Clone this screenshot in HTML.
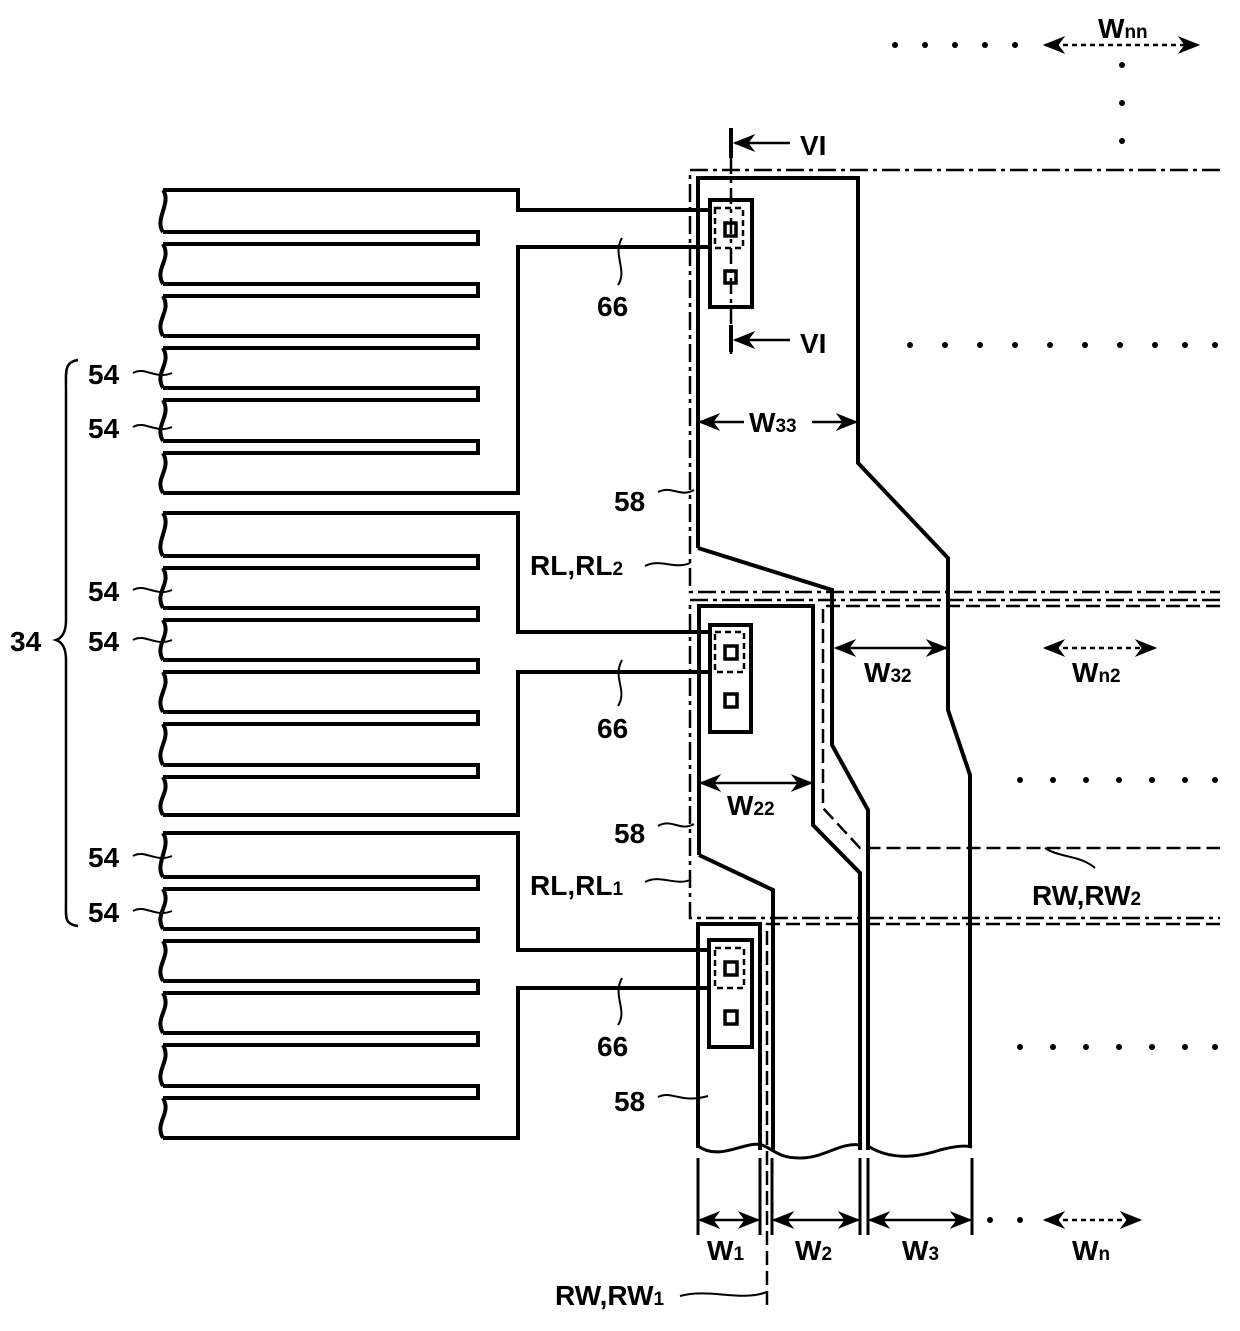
<!DOCTYPE html>
<html><head><meta charset="utf-8"><style>
body{margin:0;background:#fff}
svg{display:block}
text{font-family:"Liberation Sans",sans-serif;font-weight:bold;font-size:28px;fill:#000}
.s{font-size:19px}
</style></head><body>
<svg width="1240" height="1331" viewBox="0 0 1240 1331" xmlns="http://www.w3.org/2000/svg">
<defs>
<marker id="a" viewBox="0 0 10 10" refX="9" refY="5" markerWidth="9" markerHeight="9" orient="auto-start-reverse"><path d="M0,1 L10,5 L0,9 L3,5z" fill="#000"/></marker>
</defs>
<g fill="none" stroke="#000" stroke-width="4">
<path d="M163,190 H518 V210 H710 M710,247 H518 V493 H163"/>
<path d="M163,232 H478 V244 H163 M163,284 H478 V296 H163 M163,336 H478 V348 H163 M163,388 H478 V400 H163 M163,441 H478 V453 H163"/>
<path d="M163,190 C172,203 154,219 163,232 M163,244 C172,260 154,268 163,284 M163,296 C172,312 154,320 163,336 M163,348 C172,364 154,372 163,388 M163,400 C172,416 154,425 163,441 M163,453 C172,470 154,478 163,493"/>
<path d="M163,513 H518 V632 H710 M710,672 H518 V815 H163"/>
<path d="M163,556 H478 V568 H163 M163,608 H478 V620 H163 M163,660 H478 V672 H163 M163,712 H478 V724 H163 M163,765 H478 V777 H163"/>
<path d="M163,513 C172,527 154,542 163,556 M163,568 C172,584 154,592 163,608 M163,620 C172,636 154,644 163,660 M163,672 C172,688 154,696 163,712 M163,724 C172,740 154,749 163,765 M163,777 C172,793 154,800 163,815"/>
<path d="M163,833 H518 V950 H710 M710,988 H518 V1138 H163"/>
<path d="M163,877 H478 V889 H163 M163,929 H478 V941 H163 M163,981 H478 V993 H163 M163,1033 H478 V1045 H163 M163,1086 H478 V1098 H163"/>
<path d="M163,833 C172,847 154,863 163,877 M163,889 C172,905 154,913 163,929 M163,941 C172,957 154,965 163,981 M163,993 C172,1009 154,1017 163,1033 M163,1045 C172,1061 154,1070 163,1086 M163,1098 C172,1114 154,1122 163,1138"/>

<path d="M698,1148 V924 H760 V1150"/>
<path d="M698,548 V178 H858 V463 L948,558 V710 L970,775 V1148"/>
<path d="M698,548 L832,590 V745 L868,810 V1150"/>
<path d="M699,855 V606 H813 V825 L860,873 V1150"/>
<path d="M699,855 L773,890 V1150"/>
<rect x="710" y="200" width="42" height="107"/>
<rect x="710" y="625" width="41" height="107"/>
<rect x="709" y="940" width="43" height="107"/>
<g stroke-width="3.5">
<rect x="725" y="223" width="11" height="13"/><rect x="725" y="271" width="11" height="12"/>
<rect x="725" y="646" width="12" height="13"/><rect x="725" y="694" width="12" height="13"/>
<rect x="725" y="962" width="12" height="13"/><rect x="725" y="1011" width="12" height="13"/>
</g>
<path d="M698,1146 C720,1162 745,1140 762,1145 C775,1150 778,1158 800,1158 C825,1158 840,1142 860,1145 M868,1146 C890,1160 915,1158 940,1150 C955,1146 965,1145 972,1147" stroke-width="3"/>
<path d="M698,1158 V1235 M760,1158 V1235 M772,1158 V1235 M860,1158 V1235 M868,1158 V1235 M972,1158 V1235" stroke-width="3"/>
</g>

<g fill="none" stroke="#000" stroke-width="2.5">
<rect x="715" y="208" width="28" height="40" stroke-dasharray="6,4"/>
<rect x="715" y="632" width="29" height="40" stroke-dasharray="6,4"/>
<rect x="715" y="948" width="29" height="40" stroke-dasharray="6,4"/>
<path d="M1220,170 H690 V592 H1220" stroke-dasharray="18,5,4,5"/>
<path d="M1220,600 H690 V918 H1220" stroke-dasharray="18,5,4,5"/>
<path d="M1220,606 H823 V808 L860,848 H1220" stroke-dasharray="14,6"/>
<path d="M1220,924 H767 V1305" stroke-dasharray="14,6"/>
<path d="M731,128 V355" stroke-dasharray="16,5,4,5"/>
<path d="M731,128 V158 M731,325 V352" stroke-width="4"/>
<path d="M744,422 H700" marker-end="url(#a)"/>
<path d="M812,422 H856" marker-end="url(#a)"/>
<path d="M701,783 H811" marker-start="url(#a)" marker-end="url(#a)"/>
<path d="M836,648 H946" marker-start="url(#a)" marker-end="url(#a)"/>
<path d="M700,1220 H758" marker-start="url(#a)" marker-end="url(#a)"/>
<path d="M774,1220 H858" marker-start="url(#a)" marker-end="url(#a)"/>
<path d="M870,1220 H970" marker-start="url(#a)" marker-end="url(#a)"/>
<path d="M790,143 H735" marker-end="url(#a)"/>
<path d="M790,340 H735" marker-end="url(#a)"/>
<path d="M1045,45 H1198" stroke-dasharray="5,4" marker-start="url(#a)" marker-end="url(#a)"/>
<path d="M1045,648 H1155" stroke-dasharray="5,4" marker-start="url(#a)" marker-end="url(#a)"/>
<path d="M1045,1220 H1140" stroke-dasharray="5,4" marker-start="url(#a)" marker-end="url(#a)"/>
<path d="M622,238 C612,255 628,270 618,285" stroke-width="2"/>
<path d="M622,660 C612,678 628,690 618,706" stroke-width="2"/>
<path d="M622,978 C612,996 628,1010 618,1025" stroke-width="2"/>
<path d="M658,492 C672,485 680,498 694,490" stroke-width="2"/>
<path d="M658,826 C672,818 680,832 694,824" stroke-width="2"/>
<path d="M658,1097 C672,1090 680,1104 708,1096" stroke-width="2"/>
<path d="M645,566 C660,558 675,570 690,563" stroke-width="2"/>
<path d="M645,882 C660,874 675,886 690,880" stroke-width="2"/>
<path d="M1045,848 C1060,858 1080,855 1095,868" stroke-width="2"/>
<path d="M680,1296 C710,1288 740,1302 767,1292" stroke-width="2"/>
<path d="M133,373 C145,366 155,380 172,373 M133,427 C145,420 155,434 172,427 M133,590 C145,583 155,597 172,590 M133,640 C145,633 155,647 172,640 M133,856 C145,849 155,863 172,856 M133,911 C145,904 155,918 172,911" stroke-width="2"/>
<path d="M78,360 C64,362 66,372 66,390 V620 C66,632 62,638 56,640 C62,642 66,648 66,660 V900 C66,918 64,924 78,926" stroke-width="2.5"/>
</g>
<g fill="#000">
<circle cx="895" cy="45" r="3"/><circle cx="925" cy="45" r="3"/><circle cx="955" cy="45" r="3"/><circle cx="985" cy="45" r="3"/><circle cx="1015" cy="45" r="3"/>
<circle cx="1122" cy="65" r="3"/><circle cx="1122" cy="103" r="3"/><circle cx="1122" cy="141" r="3"/>
<circle cx="910" cy="345" r="3"/><circle cx="945" cy="345" r="3"/><circle cx="980" cy="345" r="3"/><circle cx="1015" cy="345" r="3"/><circle cx="1050" cy="345" r="3"/><circle cx="1085" cy="345" r="3"/><circle cx="1120" cy="345" r="3"/><circle cx="1155" cy="345" r="3"/><circle cx="1185" cy="345" r="3"/><circle cx="1215" cy="345" r="3"/>
<circle cx="1020" cy="780" r="3"/><circle cx="1053" cy="780" r="3"/><circle cx="1086" cy="780" r="3"/><circle cx="1119" cy="780" r="3"/><circle cx="1152" cy="780" r="3"/><circle cx="1185" cy="780" r="3"/><circle cx="1215" cy="780" r="3"/>
<circle cx="1020" cy="1047" r="3"/><circle cx="1053" cy="1047" r="3"/><circle cx="1086" cy="1047" r="3"/><circle cx="1119" cy="1047" r="3"/><circle cx="1152" cy="1047" r="3"/><circle cx="1185" cy="1047" r="3"/><circle cx="1215" cy="1047" r="3"/>
<circle cx="990" cy="1220" r="3"/><circle cx="1020" cy="1220" r="3"/>
</g>
<text x="800" y="155" font-family="Liberation Serif">VI</text>
<text x="800" y="353" font-family="Liberation Serif">VI</text>
<text x="1098" y="38">W<tspan class="s">nn</tspan></text>
<text x="749" y="432">W<tspan class="s">33</tspan></text>
<text x="864" y="682">W<tspan class="s">32</tspan></text>
<text x="1072" y="682">W<tspan class="s">n2</tspan></text>
<text x="727" y="815">W<tspan class="s">22</tspan></text>
<text x="707" y="1260">W<tspan class="s">1</tspan></text>
<text x="795" y="1260">W<tspan class="s">2</tspan></text>
<text x="902" y="1260">W<tspan class="s">3</tspan></text>
<text x="1072" y="1260">W<tspan class="s">n</tspan></text>
<text x="597" y="316">66</text>
<text x="597" y="738">66</text>
<text x="597" y="1056">66</text>
<text x="614" y="511">58</text>
<text x="614" y="843">58</text>
<text x="614" y="1111">58</text>
<text x="530" y="575">RL,RL<tspan class="s">2</tspan></text>
<text x="530" y="895">RL,RL<tspan class="s">1</tspan></text>
<text x="1032" y="905">RW,RW<tspan class="s">2</tspan></text>
<text x="555" y="1305">RW,RW<tspan class="s">1</tspan></text>
<text x="88" y="384">54</text>
<text x="88" y="438">54</text>
<text x="88" y="601">54</text>
<text x="88" y="651">54</text>
<text x="88" y="867">54</text>
<text x="88" y="922">54</text>
<text x="10" y="651">34</text>
</svg>
</body></html>
